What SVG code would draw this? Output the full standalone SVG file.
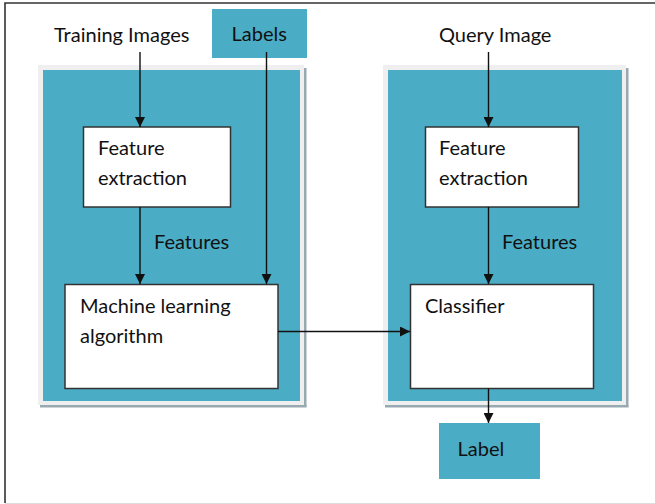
<svg xmlns="http://www.w3.org/2000/svg" width="655" height="504" viewBox="0 0 655 504">
  <style>
    .frame { fill: none; stroke: #333333; stroke-width: 1.6; }
    .panel-rim { fill: #efefef; }
    .panel { fill: #4bacc6; }
    .shadow { fill: #98a9b1; }
    .box { fill: #ffffff; stroke: #333333; stroke-width: 1.5; }
    .tag { fill: #4bacc6; }
    .txt { font-family: Lato, "Liberation Sans", sans-serif; font-size: 20px; fill: #111111; }
    .edge { fill: none; stroke: #111111; stroke-width: 1.4; marker-end: url(#arrow); }
  </style>
  <defs>
    <marker id="arrow" viewBox="0 0 10 10" refX="10" refY="5" markerWidth="10" markerHeight="10" markerUnits="userSpaceOnUse" orient="auto">
      <path d="M0,0 L10,5 L0,10 Z" fill="#111111"/>
    </marker>
  </defs>

  <rect width="655" height="504" fill="#ffffff"/>
  <!-- page frame -->
  <path class="frame" d="M5,503 V3 H656"/>
  <line x1="5" y1="503.5" x2="655" y2="503.5" stroke="#dddddd" stroke-width="1"/>

  <!-- training panel -->
  <g id="training-panel">
    <rect class="shadow" x="304" y="68" width="2.5" height="339"/>
    <rect class="shadow" x="40" y="405" width="266.5" height="2.5"/>
    <rect class="panel-rim" x="38" y="65" width="266" height="340"/>
    <rect class="panel" x="43" y="70" width="257" height="331"/>
  </g>

  <!-- prediction panel -->
  <g id="prediction-panel">
    <rect class="shadow" x="626" y="68" width="2.5" height="339"/>
    <rect class="shadow" x="385" y="405" width="243.5" height="2.5"/>
    <rect class="panel-rim" x="383" y="65" width="243" height="340"/>
    <rect class="panel" x="388" y="70" width="234" height="331"/>
  </g>

  <g id="training-images">
    <text class="txt" x="54" y="42">Training Images</text>
  </g>

  <g id="labels">
    <rect class="tag" x="212" y="9" width="95" height="49"/>
    <text class="txt" x="231.5" y="41">Labels</text>
  </g>

  <g id="query-image">
    <text class="txt" x="439" y="42">Query Image</text>
  </g>

  <g id="feature-extraction-train">
    <rect class="box" x="83.5" y="127" width="147" height="80"/>
    <text class="txt" x="98" y="155">Feature</text>
    <text class="txt" x="98" y="185">extraction</text>
  </g>

  <g id="ml-algorithm">
    <rect class="box" x="65" y="284.5" width="213" height="104"/>
    <text class="txt" x="80" y="313">Machine learning</text>
    <text class="txt" x="80" y="343">algorithm</text>
  </g>

  <g id="feature-extraction-query">
    <rect class="box" x="425.5" y="127" width="153" height="80"/>
    <text class="txt" x="439" y="155">Feature</text>
    <text class="txt" x="439" y="185">extraction</text>
  </g>

  <g id="classifier">
    <rect class="box" x="410.5" y="284.5" width="183" height="104"/>
    <text class="txt" x="425" y="313">Classifier</text>
  </g>

  <g id="label-out">
    <rect class="tag" x="439" y="423" width="101" height="56"/>
    <text class="txt" x="457.5" y="456">Label</text>
  </g>

  <g id="connectors">
    <line class="edge" x1="140" y1="52" x2="140" y2="127"/>
    <line class="edge" x1="266.5" y1="52" x2="266.5" y2="284"/>
    <line class="edge" x1="140" y1="207" x2="140" y2="284"/>
    <text class="txt" x="154" y="249">Features</text>
    <line class="edge" x1="488.5" y1="52" x2="488.5" y2="127"/>
    <line class="edge" x1="488.5" y1="207" x2="488.5" y2="284"/>
    <text class="txt" x="502" y="249">Features</text>
    <line class="edge" x1="278" y1="331.5" x2="410" y2="331.5"/>
    <line class="edge" x1="488.5" y1="388.5" x2="488.5" y2="423"/>
  </g>
</svg>
